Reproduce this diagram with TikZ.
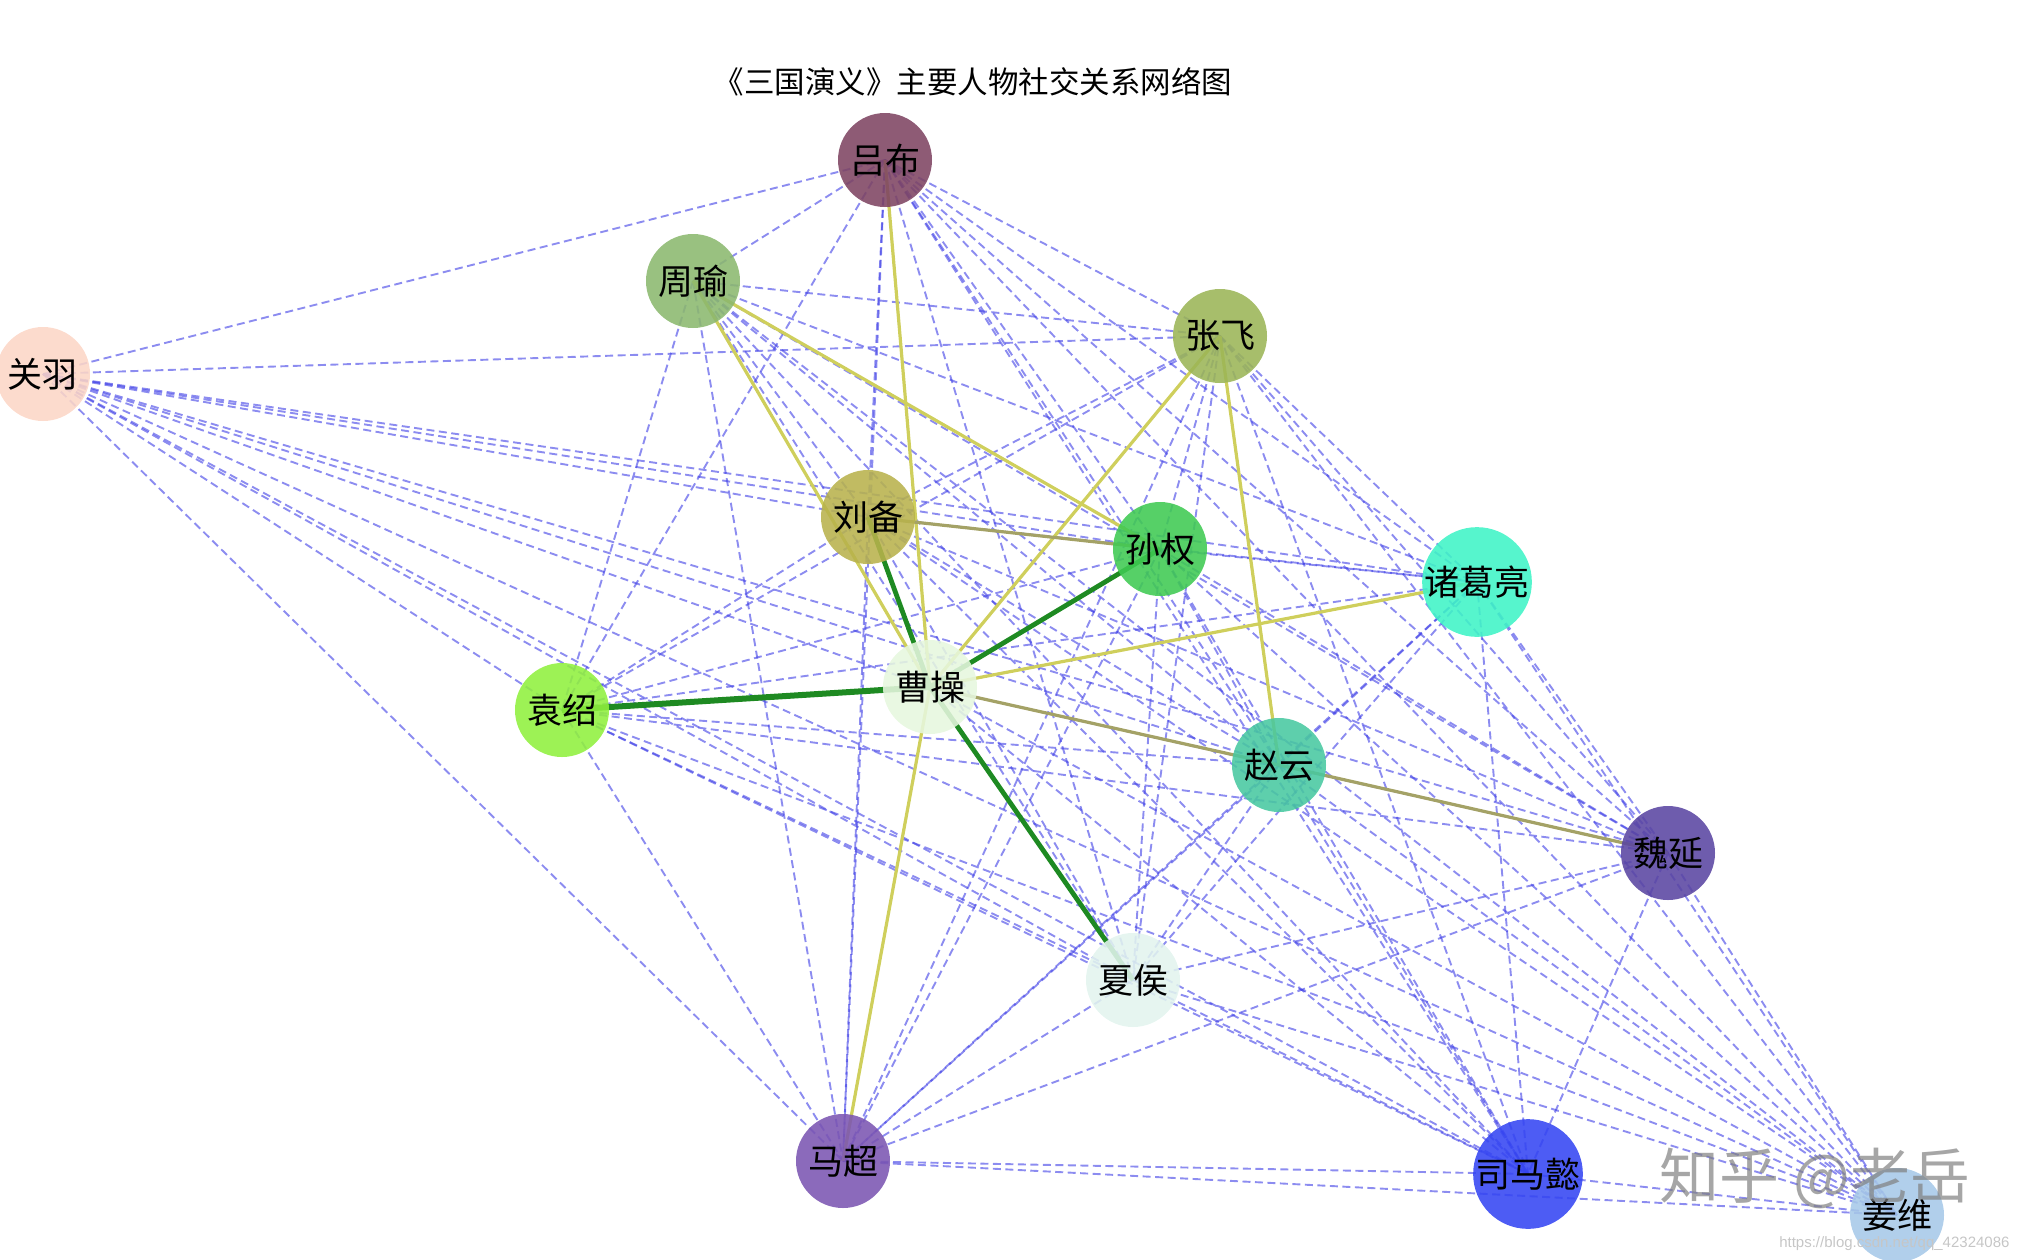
\documentclass[tikz,border=0pt]{standalone}
\usepackage{fontspec}
\setmainfont{Noto Sans CJK SC}
\newfontfamily\latinfont{Liberation Sans}
\definecolor{cLB}{HTML}{7E4462}
\definecolor{cZY}{HTML}{8BB86E}
\definecolor{cZF}{HTML}{9BB556}
\definecolor{cGY}{HTML}{FCD6C6}
\definecolor{cLBei}{HTML}{B8B24C}
\definecolor{cSQ}{HTML}{3FCA52}
\definecolor{cZGL}{HTML}{3FF4C6}
\definecolor{cCC}{HTML}{E6F7DE}
\definecolor{cYS}{HTML}{90F03E}
\definecolor{cZYun}{HTML}{48C8A0}
\definecolor{cWY}{HTML}{5A45A2}
\definecolor{cXH}{HTML}{E2F4EE}
\definecolor{cMC}{HTML}{7B55B2}
\definecolor{cSMY}{HTML}{3445F2}
\definecolor{cJW}{HTML}{A6C8E8}
\definecolor{relblue}{HTML}{4040E6}
\definecolor{yel}{HTML}{CFCF5C}
\definecolor{olv}{HTML}{A4A266}
\definecolor{grn}{HTML}{1E8A22}
\pgfdeclarelayer{bg}
\pgfsetlayers{bg,main}
\begin{document}
\begin{tikzpicture}[x=1pt,y=-1pt,
  person/.style={circle,minimum size=94pt,inner sep=0pt,
    font=\fontsize{35}{35}\selectfont,fill opacity=0.88,text opacity=1},
  rel/.style={draw=relblue,draw opacity=0.6,line width=1.9pt,dash pattern=on 8pt off 4.5pt},
  yrel/.style={draw=yel,line width=3.2pt},
  orel/.style={draw=olv,line width=3.2pt},
  grel/.style={draw=grn,line width=4.8pt}]
\useasboundingbox (0,0) rectangle (2021,1259);
\node[font=\fontsize{30.5}{30.5}\selectfont] (title) at (973,82) {《三国演义》主要人物社交关系网络图};
\node[person,fill=cLB] (lb) at (885,160) {吕布};
\node[person,fill=cZY] (zy) at (693,281) {周瑜};
\node[person,fill=cZF] (zf) at (1220,336) {张飞};
\node[person,fill=cGY] (gy) at (43,374) {关羽};
\node[person,fill=cLBei] (lbei) at (868,517) {刘备};
\node[person,fill=cSQ] (sq) at (1160,549) {孙权};
\node[person,fill=cZGL] (zgl) at (1477,582) {诸葛亮};
\node[person,fill=cCC] (cc) at (930,687) {曹操};
\node[person,fill=cYS] (ys) at (562,710) {袁绍};
\node[person,fill=cZYun] (zyun) at (1279,765) {赵云};
\node[person,fill=cWY] (wy) at (1668,853) {魏延};
\node[person,fill=cXH] (xh) at (1133,980) {夏侯};
\node[person,fill=cMC] (mc) at (843,1161) {马超};
\node[person,fill=cSMY] (smy) at (1528,1174) {司马懿};
\node[person,fill=cJW] (jw) at (1897,1215) {姜维};
\begin{pgfonlayer}{bg}
\def\plist{lb,zy,zf,lbei,sq,zgl,cc,ys,zyun,wy,xh,mc,smy,jw}
\foreach \a [count=\i] in \plist {
  \foreach \b [count=\j] in \plist {
    \ifnum\j>\i \draw[rel] (\a.center) -- (\b.center); \fi
  }
}
\foreach \b in {lb,zf,lbei,sq,zgl,cc,ys,zyun,wy,xh,mc,smy,jw}
  \draw[rel] (gy.center) -- (\b.center);
\draw[yrel] (zy.center) -- (cc.center);
\draw[yrel] (zy.center) -- (sq.center);
\draw[yrel] (lb.center) -- (cc.center);
\draw[yrel] (zf.center) -- (cc.center);
\draw[yrel] (zf.center) -- (zyun.center);
\draw[yrel] (cc.center) -- (zgl.center);
\draw[yrel] (cc.center) -- (mc.center);
\draw[orel] (cc.center) -- (zyun.center);
\draw[orel] (lbei.center) -- (sq.center);
\draw[orel] (zyun.center) -- (wy.center);
\draw[grel,line width=6pt] (cc.center) -- (ys.center);
\draw[grel] (cc.center) -- (sq.center);
\draw[grel] (cc.center) -- (xh.center);
\draw[grel] (cc.center) -- (lbei.center);
\end{pgfonlayer}
\node[text=gray,text opacity=0.7,font=\fontsize{60}{60}\selectfont] (wm) at (1815,1178) {知乎 @老岳};
\node[text=gray!45,anchor=east,font=\latinfont\fontsize{15}{15}\selectfont] (url) at (2013,1244) {https://blog.csdn.net/qq\_42324086};
\end{tikzpicture}
\end{document}
